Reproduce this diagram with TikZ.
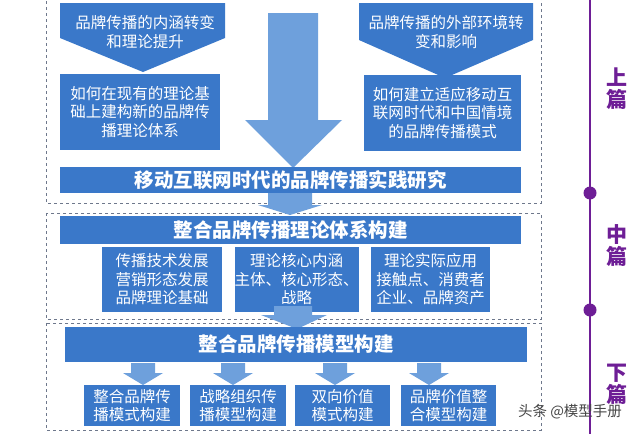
\documentclass[tikz,border=0pt]{standalone}
\usepackage{fontspec}
\setmainfont{Noto Sans CJK SC}
\usepackage{xcolor}
\definecolor{boxblue}{RGB}{58,120,201}
\definecolor{arrowblue}{RGB}{110,160,220}
\definecolor{framegray}{RGB}{110,120,140}
\definecolor{timepurple}{RGB}{110,30,150}
\definecolor{markgray}{RGB}{70,70,70}
\tikzset{
  bluebox/.style={fill=boxblue, text=white, inner sep=0pt, align=center, font=\fontsize{15.5}{18.5}\selectfont},
  bartext/.style={text=white, font=\fontsize{19.5}{22}\selectfont\bfseries},
  frame/.style={draw=framegray, dashed, line width=0.6pt},
  bigarrow/.style={fill=arrowblue, draw=none},
  sidelabel/.style={text=timepurple, align=center, font=\fontsize{21}{22}\selectfont\bfseries}
}
\begin{document}
\begin{tikzpicture}[x=1pt,y=1pt,yscale=-1]
  \useasboundingbox (0,0) rectangle (640,434);
  \fill[white] (0,0) rectangle (640,434);

  %frames
  \draw[frame] (46,-5) rectangle (541,203);
  \draw[frame] (46,213) rectangle (541,319);
  \draw[frame] (46,323) rectangle (541,430);

  %top pentagons
  \fill[boxblue] (60,3) -- (225,3) -- (225,38) -- (143,72) -- (60,38) -- cycle;
  \node[bluebox, fill=none] (inner) at (145,32) {品牌传播的内涵转变\\和理论提升};
  \fill[boxblue] (359,3) -- (533,3) -- (533,40) -- (445,78) -- (359,40) -- cycle;
  \node[bluebox, fill=none] (outer) at (446,32) {品牌传播的外部环境转\\变和影响};

  %question boxes
  \node[bluebox, minimum width=160, minimum height=76] (theory) at (140,112) {如何在现有的理论基\\础上建构新的品牌传\\播理论体系};
  \node[bluebox, minimum width=157, minimum height=76] (mode) at (442.5,113) {如何建立适应移动互\\联网时代和中国情境\\的品牌传播模式};

  %big arrow
  \fill[bigarrow] (268,13) -- (318,13) -- (318,120) -- (342,120) -- (293,168) -- (245,120) -- (268,120) -- cycle;

  \node[bluebox, minimum width=461, minimum height=26] (practice) at (290.5,180) {};
  \node[bartext] at (practice) {移动互联网时代的品牌传播实践研究};

  \fill[bigarrow] (268,193) -- (312,193) -- (312,205) -- (322,205) -- (290,215) -- (258,205) -- (268,205) -- cycle;

  %middle
  \node[bluebox, minimum width=461, minimum height=28] (system) at (290.5,230) {};
  \node[bartext] at (system) {整合品牌传播理论体系构建};
  \node[bluebox, minimum width=120, minimum height=65] (tech) at (162,279.5) {传播技术发展\\营销形态发展\\品牌理论基础};
  \node[bluebox, minimum width=119, minimum height=65] (core) at (296.5,279.5) {理论核心内涵\\主体、核心形态、\\战略};
  \node[bluebox, minimum width=119, minimum height=65] (apply) at (430.5,279.5) {理论实际应用\\接触点、消费者\\企业、品牌资产};

  \fill[bigarrow] (274,306) -- (312,306) -- (312,315) -- (327,315) -- (297,329) -- (261,315) -- (274,315) -- cycle;

  %bottom
  \node[bluebox, minimum width=462, minimum height=35] (model) at (296,344.5) {};
  \node[bartext] at (model) {整合品牌传播模型构建};
  \foreach \cx in {143,233,335,429}
    \fill[bigarrow] (\cx-12,363) -- (\cx+12,363) -- (\cx+12,373) -- (\cx+20,373) -- (\cx,385) -- (\cx-20,373) -- (\cx-12,373) -- cycle;
  \node[bluebox, minimum width=96, minimum height=41] (m1) at (132,405.5) {整合品牌传\\播模式构建};
  \node[bluebox, minimum width=96, minimum height=41] (m2) at (238,405.5) {战略组织传\\播模型构建};
  \node[bluebox, minimum width=95, minimum height=41] (m3) at (342.5,405.5) {双向价值\\模式构建};
  \node[bluebox, minimum width=95, minimum height=41] (m4) at (448.5,405.5) {品牌价值整\\合模型构建};

  %timeline
  \draw[timepurple, line width=2pt] (590,0) -- (590,434);
  \fill[timepurple] (590,193) circle (6.5);
  \fill[timepurple] (590,310) circle (6.5);
  \node[sidelabel] (up) at (617,89) {上\\篇};
  \node[sidelabel] (mid) at (617,246) {中\\篇};
  \node[sidelabel] (down) at (617,384) {下\\篇};

  \node[text=markgray, font=\fontsize{14.5}{16}\selectfont] (mark) at (570,412) {头条 @模型手册};
\end{tikzpicture}
\end{document}
